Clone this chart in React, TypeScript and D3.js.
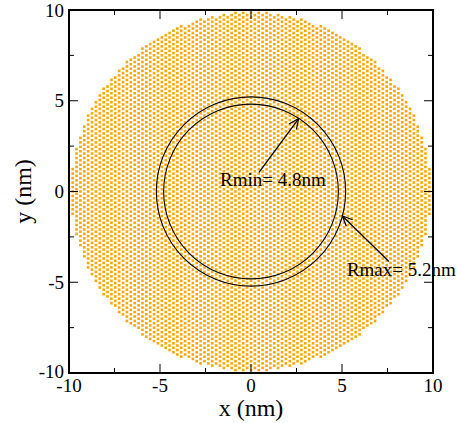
import React from "react";
import * as d3 from "d3";

// ---- data ----
const X_DOMAIN = [-10, 10];
const Y_DOMAIN = [-10, 10];
const MAJOR_TICKS = [-10, -5, 0, 5, 10];
const MINOR_TICKS = [-7.5, -2.5, 2.5, 7.5];
const TICK_LABELS = ["-10", "-5", "0", "5", "10"];
const DISK_CENTER = [0, 0];
const DISK_RADIUS = 9.9; // nm
const LATTICE_CONST = 0.246; // nm (graphene lattice)
const RING_RADII = [4.8, 5.2];
const ANNOT_LABELS = ["Rmin= 4.8nm", "Rmax= 5.2nm"];
const ANNOT_TEXT_POS = [
  [-1.7, 0.33],
  [5.27, -4.63],
];
const ARROW_TAILS = [
  [0.44, 1.05],
  [7.58, -3.86],
];
const ARROW_HEADS = [
  [2.62, 4.02],
  [5.02, -1.35],
];

// lattice atom positions inside the disk
const atoms: [number, number][] = [];
{
  const a = LATTICE_CONST;
  const dx = (a * Math.sqrt(3)) / 2;
  const n = Math.ceil(DISK_RADIUS / dx) + 1;
  const m = Math.ceil(DISK_RADIUS / a) + 1;
  for (let i = -n; i <= n; i++) {
    for (let j = -m; j <= m; j++) {
      const x = DISK_CENTER[0] + i * dx;
      const y = DISK_CENTER[1] + j * a + (Math.abs(i) % 2 ? a / 2 : 0);
      if (Math.hypot(x - DISK_CENTER[0], y - DISK_CENTER[1]) <= DISK_RADIUS) atoms.push([x, y]);
    }
  }
}

export default function App() {
  const W = 457,
    H = 423;
  const left = 69,
    right = 433,
    top = 10,
    bottom = 373;
  const x = d3.scaleLinear().domain(X_DOMAIN).range([left, right]);
  const y = d3.scaleLinear().domain(Y_DOMAIN).range([bottom, top]);
  const font = "Liberation Serif, Times New Roman, DejaVu Serif, serif";
  const ts = { fontFamily: font } as React.CSSProperties;
  const MAJ = 9,
    MIN = 5;

  const ticks = (vals: number[], len: number, key: string) =>
    vals.flatMap((v, i) => [
      <line key={key + "b" + i} x1={x(v)} x2={x(v)} y1={bottom} y2={bottom - len} stroke="#000" strokeWidth={1} />,
      <line key={key + "t" + i} x1={x(v)} x2={x(v)} y1={top} y2={top + len} stroke="#000" strokeWidth={1} />,
      <line key={key + "l" + i} x1={left} x2={left + len} y1={y(v)} y2={y(v)} stroke="#000" strokeWidth={1} />,
      <line key={key + "r" + i} x1={right} x2={right - len} y1={y(v)} y2={y(v)} stroke="#000" strokeWidth={1} />,
    ]);

  return (
    <svg
      width={W}
      height={H}
      style={{ position: "absolute", left: 0, top: 0, background: "#fff", fontFamily: font }}
    >
      <defs>
        <marker
          id="arr"
          viewBox="0 0 12 12"
          refX={11}
          refY={6}
          markerWidth={12}
          markerHeight={12}
          markerUnits="userSpaceOnUse"
          orient="auto"
        >
          <path d="M1,1.5 L11,6 L1,10.5" fill="none" stroke="#000" strokeWidth={1.2} />
        </marker>
      </defs>
      <rect x={0} y={0} width={W} height={H} fill="#fff" />
      <g>
        {atoms.map((p, i) => (
          <rect key={i} x={x(p[0]) - 1.3} y={y(p[1]) - 1.3} width={2.6} height={2.6} fill="#ffa500" />
        ))}
      </g>
      {RING_RADII.map((r, i) => (
        <circle
          key={i}
          cx={x(DISK_CENTER[0])}
          cy={y(DISK_CENTER[1])}
          r={x(r) - x(0)}
          fill="none"
          stroke="#000"
          strokeWidth={1.1}
        />
      ))}
      {ARROW_TAILS.map((t, i) => (
        <line
          key={i}
          x1={x(t[0])}
          y1={y(t[1])}
          x2={x(ARROW_HEADS[i][0])}
          y2={y(ARROW_HEADS[i][1])}
          stroke="#000"
          strokeWidth={1.3}
          markerEnd="url(#arr)"
        />
      ))}
      <rect x={left} y={top} width={right - left} height={bottom - top} fill="none" stroke="#000" strokeWidth={2} />
      {ticks(MAJOR_TICKS, MAJ, "M")}
      {ticks(MINOR_TICKS, MIN, "m")}
      {MAJOR_TICKS.map((v, i) => (
        <text key={"xl" + i} x={x(v)} y={bottom + 19} fontSize={19} textAnchor="middle" style={ts}>
          {TICK_LABELS[i]}
        </text>
      ))}
      {MAJOR_TICKS.map((v, i) => (
        <text key={"yl" + i} x={left - 5} y={y(v) - (i === 0 ? 2 : 0)} dy="0.35em" fontSize={19} textAnchor="end" style={ts}>
          {TICK_LABELS[i]}
        </text>
      ))}
      <text x={x(0)} y={416} fontSize={24} textAnchor="middle" style={ts}>
        x (nm)
      </text>
      <text transform={`translate(${31},${y(0)}) rotate(-90)`} fontSize={24} textAnchor="middle" style={ts}>
        y (nm)
      </text>
      {ANNOT_LABELS.map((s, i) => (
        <text key={"a" + i} x={x(ANNOT_TEXT_POS[i][0])} y={y(ANNOT_TEXT_POS[i][1])} fontSize={19} style={ts}>
          {s}
        </text>
      ))}
    </svg>
  );
}
